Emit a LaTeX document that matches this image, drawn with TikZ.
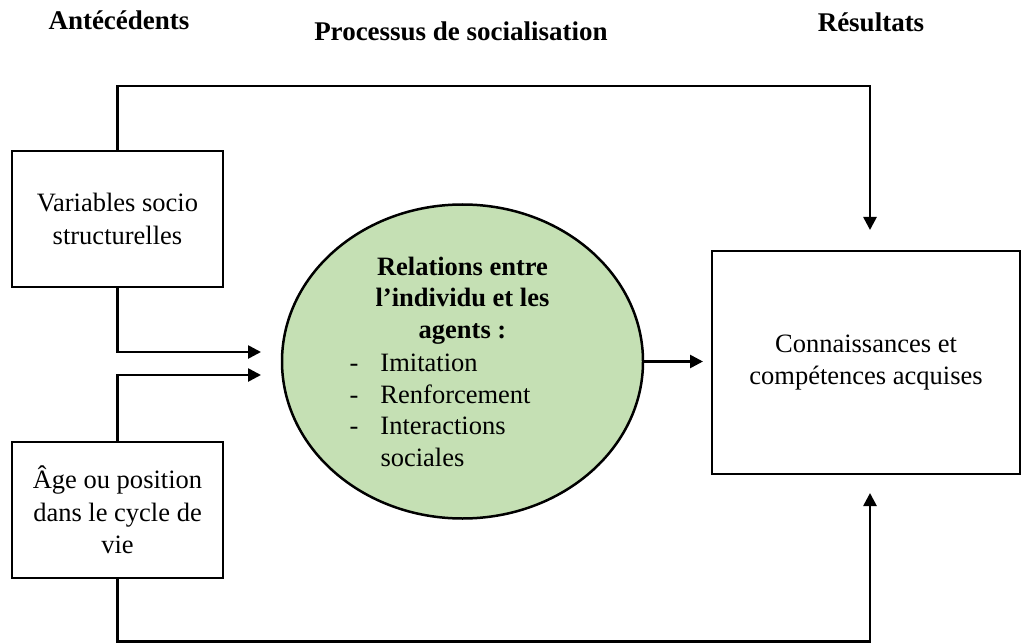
\documentclass[tikz,border=0pt]{standalone}
\usepackage{fontspec}
\setmainfont{Liberation Serif}
\usetikzlibrary{arrows.meta}
\usetikzlibrary{shapes.geometric}
\definecolor{relgreen}{RGB}{197,224,180}

\begin{document}
\begin{tikzpicture}[x=1pt, y=-1pt,
    head/.style={anchor=base, font=\fontsize{27}{32}\selectfont\bfseries},
    box/.style={draw, line width=1.6pt, inner sep=0pt, align=center,
      minimum width=211pt, minimum height=136pt,
      font=\fontsize{26.5}{32.5}\selectfont},
    relation/.style={draw, ellipse, fill=relgreen, line width=2.5pt, inner sep=0pt,
      minimum width=361pt, minimum height=314pt},
    flow/.style={line width=2.6pt, -{Triangle[length=13pt,width=13pt]}}]
  \useasboundingbox (0,0) rectangle (1022,644);

  % column titles
  \node[head] (hAnte) at (119,30) {Antécédents};
  \node[head] (hProc) at (461,41) {Processus de socialisation};
  \node[head] (hRes) at (871,32) {Résultats};

  \node[box] (vars) at (117.5,219) {Variables socio\\ structurelles};
  \node[box] (age) at (117.5,510) {Âge ou position\\ dans le cycle de\\ vie};
  \node[box, minimum width=308pt, minimum height=223pt] (res) at (866,362.5)
    {Connaissances et\\ compétences acquises};
  \node[relation] (rel) at (462.5,361.5) {\begin{minipage}{226pt}
      \fontsize{26.5}{31.5}\selectfont\centering\bfseries
      Relations entre\\ l’individu et les\\ agents :\par\vspace{2pt}
      \raggedright\mdseries
      \makebox[31pt][l]{-}Imitation\\
      \makebox[31pt][l]{-}Renforcement\\
      \makebox[31pt][l]{-}Interactions\\
      \hspace*{31pt}sociales
    \end{minipage}};

  \coordinate (inTop) at (261,352);
  \coordinate (inLow) at (261,375);
  \coordinate (resIn) at (703,361.5);
  \coordinate (topRun) at (870,86);
  \coordinate (topTip) at (870,230);
  \coordinate (lowRun) at (870,641.5);
  \coordinate (lowTip) at (870,493);

  \draw[flow] (vars.north) |- (topRun) -- (topTip);
  \draw[flow] (vars.south) |- (inTop);
  \draw[flow] (age.north) |- (inLow);
  \draw[flow] (age.south) |- (lowRun) -- (lowTip);
  \draw[flow] (rel.east) -- (resIn);
\end{tikzpicture}
\end{document}
